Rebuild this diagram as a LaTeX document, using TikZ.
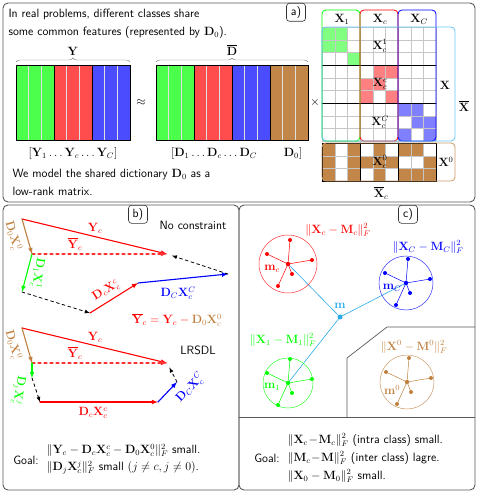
\documentclass[tikz,border=0pt]{standalone}
\usepackage{amsmath,amssymb}
\usepackage{bm}
\usepackage{tikz}
\usetikzlibrary{decorations.pathreplacing}

\definecolor{mcyan}{RGB}{40,170,230}
\definecolor{xcyan}{RGB}{100,200,250}

\newcommand{\mb}[1]{\mathbf{#1}}
% filled cells of the code matrix: colour, list of col/row
\newcommand{\codecells}[3]{%
  \foreach \i/\j in {#3}
    \fill[#1] ({322+\i*12.667},{#2+\j*12.667}) rectangle ++(12.667,12.667);
}
% one class: centre, colour, radius
\newcommand{\classblob}[3]{%
  \draw[#2!80, line width=0.5pt] (#1) circle (#3);
  \foreach \dx/\dy in {-21/-10, 24/-4, 4/10, -10/22, 2/-24} {
    \draw[#2, line width=0.5pt] (#1) -- ++(\dx,\dy);
    \fill[#2] (#1) ++(\dx,\dy) circle (2pt);
  }
  \fill[#2] (#1) circle (2.2pt);
}

\begin{document}
\begin{tikzpicture}[x=1pt, y=-1pt, line cap=round,
  every node/.style={font=\fontsize{12}{18}\selectfont\sffamily},
  panel/.style={draw=black!65, line width=0.9pt, rounded corners=5pt},
  tag/.style={draw=black!80, line width=0.6pt, rounded corners=3pt, fill=white,
    minimum width=19pt, minimum height=18pt, inner sep=1pt, anchor=north},
  block/.style={draw=black, line width=0.6pt},
  colframe/.style={rounded corners=4pt, line width=0.8pt},
  vec/.style={-latex, line width=1.1pt},
  guide/.style={-latex, dashed, line width=0.8pt},
]
  \useasboundingbox (0,0) rectangle (478,494);
  % panels
  \draw[panel] (3,3) rectangle (475,202);
  \draw[panel] (3,205) rectangle (239,490);
  \draw[panel] (239,205) rectangle (475,490);
  \node[tag] (taga) at (296,3) {a)};
  \node[tag] (tagb) at (138,205) {b)};
  \node[tag] (tagc) at (408,205) {c)};

  % a) text
  \node[anchor=north west, align=left] (intro) at (5,6)
    {In real problems, different classes share\\some common features (represented by $\mb{D}_0$).};
  \node[anchor=north west, align=left] (model) at (9,166)
    {We model the shared dictionary $\mb{D}_0$ as a\\low-rank matrix.};

  % Y and D-bar
  \foreach \x/\c in {16/green!70, 54/red!70, 92/blue!70, 156/green!70, 194/red!70, 232/blue!70, 270/brown!95} {
    \fill[\c] (\x,65) rectangle ++(38,75);
    \draw[white!75!gray, line width=0.4pt] (\x+12.67,65) -- ++(0,75) (\x+25.33,65) -- ++(0,75);
    \draw[block] (\x,65) rectangle ++(38,75);
  }
  \draw[decorate, decoration={brace, amplitude=4pt}, gray] (16,62) -- (130,62);
  \draw[decorate, decoration={brace, amplitude=4pt}, gray] (156,62) -- (308,62);
  \node (ylab) at (73,51) {$\mb{Y}$};
  \node (dlab) at (232,50) {$\overline{\mb{D}}$};
  \node (approx) at (141,103) {$\approx$};
  \node (times) at (315,103) {$\times$};
  \node (ylist) at (73,154) {$[\mb{Y}_1\ldots\mb{Y}_c\ldots\mb{Y}_C]$};
  \node (dlist) at (214,154) {$[\mb{D}_1\ldots\mb{D}_c\ldots\mb{D}_C$};
  \node (dzero) at (293,154) {$\mb{D}_0]$};

  % code matrix X-bar
  \codecells{green!50}{27}{0/0,1/0,0/1,1/1,2/2}
  \codecells{red!50}{27}{4/3,5/3,3/4,4/4,3/5,5/5}
  \codecells{blue!50}{27}{6/6,7/6,7/7,8/7,6/8,8/8}
  \codecells{brown!95}{143}{0/0,2/0,0/1,2/1,0/2,2/2,4/0,3/1,4/1,5/1,4/2,6/0,7/0,8/1,6/2,7/2,8/2}
  \foreach \k in {0,...,9} {
    \draw[gray!45, line width=0.3pt] ({322+\k*12.667},27) -- ++(0,114);
    \draw[gray!45, line width=0.3pt] ({322+\k*12.667},143) -- ++(0,38);
    \draw[gray!45, line width=0.3pt] (322,{27+\k*12.667}) -- ++(114,0);
  }
  \foreach \k in {1,2}
    \draw[gray!45, line width=0.3pt] (322,{143+\k*12.667}) -- ++(114,0);
  \draw[black, line width=0.7pt] (322,65) -- (436,65) (322,103) -- (436,103);
  \draw[black, line width=0.7pt] (322,143) rectangle (436,181)
    (360,143) -- (360,181) (398,143) -- (398,181);
  \draw[colframe, green] (322,10) rectangle (360,141);
  \draw[colframe, red] (360,10) rectangle (398,141);
  \draw[colframe, blue] (398,10) rectangle (436,141);
  \draw[colframe, xcyan] (322,27) rectangle (455,141);
  \draw[colframe, brown!80] (322,143) rectangle (455,181);
  \node (hx1) at (342,19) {$\mb{X}_1$};
  \node (hxc) at (380,19) {$\mb{X}_c$};
  \node (hxC) at (419,19) {$\mb{X}_C$};
  \node (xc1) at (380,46) {$\mb{X}_c^1$};
  \node (xcc) at (380,84) {$\mb{X}_c^c$};
  \node (xcC) at (380,122) {$\mb{X}_c^C$};
  \node (xc0) at (380,162) {$\mb{X}_c^0$};
  \node (xlab) at (445,85) {$\mb{X}$};
  \node (x0lab) at (446,162) {$\mb{X}^0$};
  \node (xbar) at (464,106) {$\overline{\mb{X}}$};
  \node (xbarc) at (381,193) {$\overline{\mb{X}}_c$};

  % b) without constraint
  \coordinate (a1) at (22,219);
  \coordinate (b1) at (32,254);
  \coordinate (g1) at (22,292);
  \coordinate (c1) at (90,313);
  \coordinate (e1) at (138,283);
  \coordinate (f1) at (228,274);
  \coordinate (r1) at (167,254);
  \draw[vec, red] (a1) -- (r1);
  \draw[vec, brown] (a1) -- (b1);
  \draw[vec, red!80, dashed] (b1) -- (r1);
  \draw[vec, green] (b1) -- (g1);
  \draw[guide] (g1) -- (c1);
  \draw[vec, red] (c1) -- (e1);
  \draw[vec, blue] (e1) -- (f1);
  \draw[guide, shorten >=5pt] (f1) -- (r1);
  \node[text=red] (yc1) at (95,228) {$\mb{Y}_c$};
  \node[text=red] (ybc1) at (75,244) {$\overline{\mb{Y}}_c$};
  \node[text=brown, rotate=-74] (d0a) at (13,236) {$\mb{D}_0\mb{X}_c^0$};
  \node[text=green, rotate=-100] (d1a) at (38,273) {$\mb{D}_1\mb{X}_c^1$};
  \node[text=red, rotate=32] (dca) at (106,291) {$\mb{D}_c\mb{X}_c^c$};
  \node[text=blue] (dCa) at (178,293) {$\mb{D}_C\mb{X}_c^C$};
  \node (nocon) at (193,225) {No constraint};
  \node (ybareq) at (177,320) {$\color{red}\overline{\mb{Y}}_c=\mb{Y}_c-{}$\color{brown}$\mb{D}_0\mb{X}_c^0$};

  % b) LRSDL
  \coordinate (a2) at (22,328);
  \coordinate (b2) at (32,363);
  \coordinate (g2) at (32,378);
  \coordinate (c2) at (40,402);
  \coordinate (e2) at (158,402);
  \coordinate (f2) at (177,382);
  \coordinate (r2) at (167,363);
  \draw[vec, red] (a2) -- (r2);
  \draw[vec, brown] (a2) -- (b2);
  \draw[vec, red!80, dashed] (b2) -- (r2);
  \draw[vec, green] (b2) -- (g2);
  \draw[guide] (g2) -- (c2);
  \draw[vec, red] (c2) -- (e2);
  \draw[vec, blue] (e2) -- (f2);
  \draw[guide, shorten >=5pt] (f2) -- (r2);
  \node[text=red] (yc2) at (95,337) {$\mb{Y}_c$};
  \node[text=red] (ybc2) at (75,353) {$\overline{\mb{Y}}_c$};
  \node[text=brown, rotate=-74] (d0b) at (13,345) {$\mb{D}_0\mb{X}_c^0$};
  \node[text=green, rotate=-100] (djb) at (19,390) {$\mb{D}_j\mb{X}_c^j$};
  \node[text=red] (dcb) at (93,413) {$\mb{D}_c\mb{X}_c^c$};
  \node[text=blue, rotate=46] (dCb) at (190,388) {$\mb{D}_C\mb{X}_c^C$};
  \node (lrsdl) at (198,350) {LRSDL};

  % b) goal
  \node (goalb) at (26,460) {Goal:};
  \node[anchor=west, align=left, font=\fontsize{12}{17}\selectfont\sffamily] (goalbtext) at (43,459)
    {$\|\mb{Y}_c-\mb{D}_c\mb{X}_c^c-\mb{D}_0\mb{X}_c^0\|_F^2$ small.\\
     $\|\mb{D}_j\mb{X}_c^j\|_F^2$ small $(j\neq c, j\neq 0)$.};

  % c) classes around the mean
  \draw[black!65, line width=0.7pt] (239,417) -- (475,417);
  \draw[black!65, line width=0.7pt] (347,417) -- (347,358) -- (387,327) -- (475,327);
  \coordinate (mc) at (288,264);
  \coordinate (mC) at (406,283);
  \coordinate (m1) at (288,383);
  \coordinate (m0) at (407,382);
  \coordinate (m) at (340,317);
  \draw[mcyan, line width=0.6pt] (m) -- (mc) (m) -- (mC) (m) -- (m1);
  \classblob{mc}{red}{29pt}
  \classblob{mC}{blue}{27pt}
  \classblob{m1}{green}{25pt}
  \classblob{m0}{brown}{27pt}
  \fill[mcyan] (m) circle (2.5pt);
  \node[text=mcyan] (mlab) at (340,306) {$\mb{m}$};
  \node[text=red] (mclab) at (272,269) {$\mb{m}_c$};
  \node[text=blue] (mClab) at (392,288) {$\mb{m}_C$};
  \node[text=green] (m1lab) at (272,387) {$\mb{m}_1$};
  \node[text=brown] (m0lab) at (392,390) {$\mb{m}^0$};
  \node[text=red] (lc) at (338,230) {$\|\mb{X}_c-\mb{M}_c\|_F^2$};
  \node[text=blue] (lC) at (428,247) {$\|\mb{X}_C-\mb{M}_C\|_F^2$};
  \node[text=green] (l1) at (283,340) {$\|\mb{X}_1-\mb{M}_1\|_F^2$};
  \node[text=brown] (l0) at (414,347) {$\|\mb{X}^0-\mb{M}^0\|_F^2$};

  % c) goal
  \node (goalc) at (267,458) {Goal:};
  \node[anchor=west, align=left] (goalctext) at (284,458)
    {$\|\mb{X}_c\!-\!\mb{M}_c\|_F^2$ (intra class) small.\\
     $\|\mb{M}_c\!-\!\mb{M}\|_F^2$ (inter class) lagre.\\
     $\|\mb{X}_0-\mb{M}_0\|_F^2$ small.};
\end{tikzpicture}
\end{document}
